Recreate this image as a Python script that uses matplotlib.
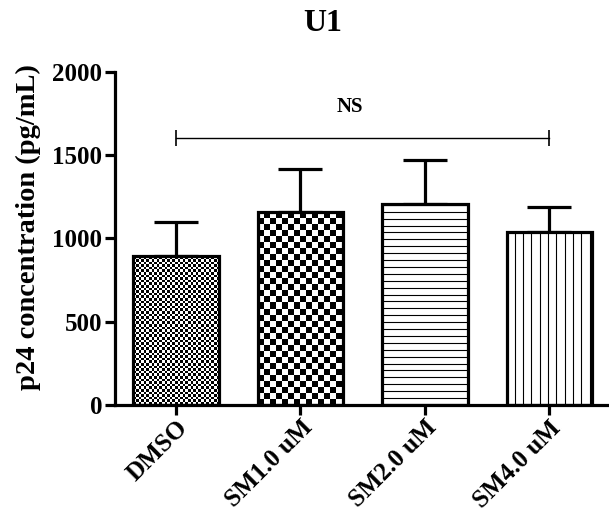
import matplotlib
matplotlib.use("Agg")
import matplotlib.pyplot as plt
import numpy as np

# values
groups = ["DMSO", "SM1.0 uM", "SM2.0 uM", "SM4.0 uM"]
means = [894, 1160, 1204, 1040]
err_up = [206, 254, 266, 150]
ns_level = 1600
yticks = [0, 500, 1000, 1500, 2000]

plt.rcParams["font.family"] = ["Liberation Serif", "DejaVu Serif"]
plt.rcParams["font.weight"] = "bold"

fig = plt.figure(figsize=(6.09, 5.31), dpi=100)
ax = fig.add_axes([0.1888, 0.2373, 0.8095, 0.6277])

x = np.arange(len(groups))
width = 0.69
lw = 2.3

bars = ax.bar(x, means, width, color="white", edgecolor="black", linewidth=0, zorder=2)

ax.errorbar(x, means, yerr=[np.zeros(len(means)), err_up], fmt="none",
            ecolor="black", elinewidth=lw, capsize=15.5, capthick=lw, zorder=1)

xlim = (-0.49, 3.47)
ylim = (0, 2000)
ax.set_xlim(*xlim)
ax.set_ylim(*ylim)


def checker(bar, size):
    # pixel-level checkerboard clipped to the bar
    x0, w, h = bar.get_x(), bar.get_width(), bar.get_height()
    p0 = ax.transData.transform((x0, 0))
    p1 = ax.transData.transform((x0 + w, h))
    nx = int(round(abs(p1[0] - p0[0])))
    ny = int(round(abs(p1[1] - p0[1])))
    yy, xx = np.indices((ny, nx)).astype(float)
    board = (np.floor(yy / size) + np.floor(xx / size)) % 2
    im = ax.imshow(board, extent=(x0, x0 + w, 0, h), cmap="gray", vmin=0, vmax=1,
                   interpolation="nearest", aspect="auto", zorder=2.5, origin="lower")
    im.set_clip_path(bar)


def stripes(bar, step_px, vertical):
    # thin evenly spaced lines clipped to the bar
    x0, w, h = bar.get_x(), bar.get_width(), bar.get_height()
    inv = ax.transData.inverted()
    p0 = ax.transData.transform((x0, 0))
    p1 = ax.transData.transform((x0 + w, h))
    if vertical:
        pos = np.arange(p0[0] + step_px, p1[0], step_px)
        xs = [inv.transform((p, 0))[0] for p in pos]
        lc = ax.vlines(xs, 0, h, color="black", linewidth=0.8, zorder=2.5)
    else:
        pos = np.arange(p0[1] + step_px, p1[1], step_px)
        ys = [inv.transform((0, p))[1] for p in pos]
        lc = ax.hlines(ys, x0, x0 + w, color="black", linewidth=0.8, zorder=2.5)
    lc.set_clip_path(bar)


checker(bars[0], 2.6)
checker(bars[1], 6.0)
stripes(bars[2], 6.9, vertical=False)
stripes(bars[3], 8.3, vertical=True)
ax.set_xlim(*xlim)
ax.set_ylim(*ylim)

# outlines on top
ax.bar(x, means, width, facecolor="none", edgecolor="black", linewidth=lw, zorder=3)

# NS bracket
ax.plot([x[0], x[-1]], [ns_level, ns_level], color="black", linewidth=1.0,
        marker="|", markersize=12, markeredgewidth=1.2, zorder=3)
ax.text((x[0] + x[-1]) / 2 - 0.1, ns_level + 160, "NS", ha="center", va="baseline",
        fontsize=15, fontweight="bold")

ax.set_yticks(yticks)
ax.set_xticks(x)
ax.set_xticklabels(groups, rotation=45, ha="right", va="top", rotation_mode="anchor",
                   fontsize=18, fontweight="bold")
ax.tick_params(axis="y", labelsize=18, width=lw, length=7, direction="out", pad=2)
ax.tick_params(axis="x", width=lw, length=7, direction="out", pad=1)
for lab in ax.get_yticklabels():
    lab.set_fontweight("bold")

ax.spines["top"].set_visible(False)
ax.spines["right"].set_visible(False)
ax.spines["left"].set_linewidth(lw)
ax.spines["bottom"].set_linewidth(lw)

ax.set_ylabel("p24 concentration (pg/mL)", fontsize=20.5, fontweight="bold")
ax.yaxis.set_label_coords(-0.15, 0.535)
fig.text(0.53, 0.955, "U1", ha="center", va="center", fontsize=23, fontweight="bold")

fig.savefig("out.png", dpi=100)
